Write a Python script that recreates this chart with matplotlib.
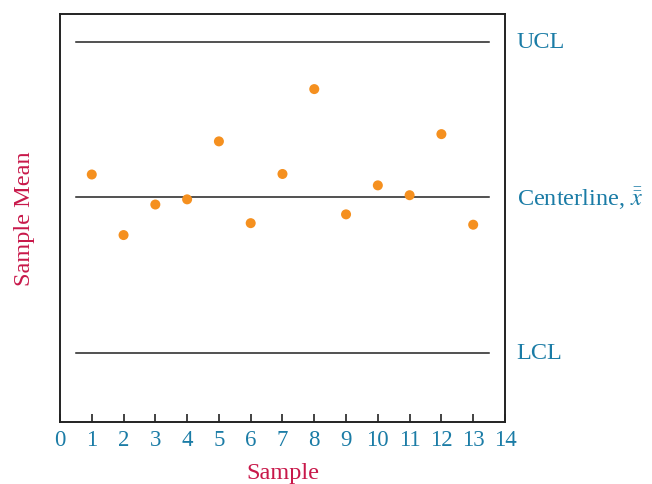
import matplotlib
matplotlib.use('Agg')
import matplotlib.pyplot as plt
import numpy as np

# sample means (arbitrary units, centerline = 10)
samples = list(range(1, 14))
means = [10.44, 9.27, 9.86, 9.96, 11.08, 9.50, 10.45, 12.09, 9.67, 10.23, 10.04, 11.22, 9.47]
ucl = 13.0
center = 10.0
lcl = 7.0
xticks = list(range(0, 15))

blue = '#1b7ca6'
red = '#c8184a'
orange = '#f5901f'

plt.rcParams['font.family'] = ['Liberation Serif', 'DejaVu Serif']
plt.rcParams['mathtext.fontset'] = 'stix'

fig = plt.figure(figsize=(6.52, 4.85), dpi=100)
ax = fig.add_axes([0.092, 0.128, 0.6825, 0.841])

for yv in (ucl, center, lcl):
    ax.plot([0.5, 13.5], [yv, yv], color='#222222', lw=1.1, zorder=1)

ax.scatter(samples, means, s=52, color=orange, zorder=3, edgecolors='none')

ax.set_xlim(0, 14)
ax.set_ylim(5.66, 13.54)
ax.set_xticks(xticks)
ax.set_xticklabels([str(t) for t in xticks], color=blue, fontsize=16.5)
ax.set_yticks([])
ax.tick_params(axis='x', direction='in', length=6, width=1.2, color='#222222', pad=5)

for s in ax.spines.values():
    s.set_linewidth(1.4)
    s.set_color('#222222')

ax.set_xlabel('Sample', color=red, fontsize=17.5, labelpad=8.5)
ax.set_ylabel('Sample Mean', color=red, fontsize=17.5, labelpad=18)

yt = ax.get_yaxis_transform()
ax.text(1.026, ucl, 'UCL', transform=yt, color=blue, fontsize=17.5, va='center', ha='left')
ax.text(1.026, center, r'Centerline, $\bar{\bar{x}}$', transform=yt,
        color=blue, fontsize=17.5, va='center', ha='left')
ax.text(1.026, lcl, 'LCL', transform=yt, color=blue, fontsize=17.5, va='center', ha='left')

fig.savefig('out.png', dpi=100)
